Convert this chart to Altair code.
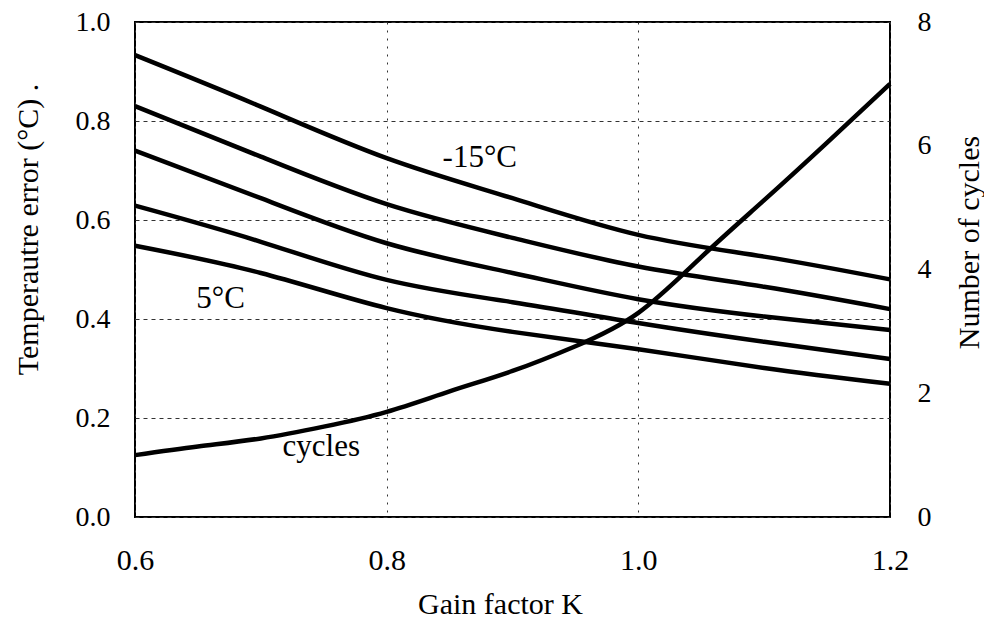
import altair as alt
import pandas as pd

# Gain factor K sample points
K = [0.6, 0.7, 0.8, 0.9, 1.0, 1.1, 1.2]

# Temperature error (°C) for the five ambient temperatures (top = -15°C, bottom = 5°C)
err_m15 = [0.933, 0.829, 0.725, 0.644, 0.570, 0.526, 0.480]
err_b = [0.830, 0.728, 0.632, 0.564, 0.506, 0.465, 0.420]
err_c = [0.740, 0.644, 0.553, 0.493, 0.440, 0.405, 0.378]
err_d = [0.629, 0.556, 0.479, 0.434, 0.392, 0.354, 0.319]
err_p5 = [0.548, 0.493, 0.422, 0.374, 0.339, 0.301, 0.269]
series_names = ["-15°C", "b", "c", "d", "5°C"]
series_values = [err_m15, err_b, err_c, err_d, err_p5]

# Number of cycles
K_cyc = [0.6, 0.65, 0.7, 0.75, 0.8, 0.85, 0.9, 0.95, 1.0, 1.05, 1.1, 1.15, 1.2]
cycles = [1.0, 1.14, 1.27, 1.46, 1.70, 2.03, 2.36, 2.76, 3.30, 4.20, 5.12, 6.05, 7.0]

# In-plot annotations
lab_text = ["-15°C", "5°C", "cycles"]
lab_k = [0.874, 0.668, 0.748]
lab_err = [0.707, 0.422, 0.123]

FONT = "Liberation Serif"
FS = 30
FS_Y = 28

rows = []
for name, vals in zip(series_names, series_values):
    for k, v in zip(K, vals):
        rows.append({"K": k, "err": v, "series": name})
df_temp = pd.DataFrame(rows)
df_cyc = pd.DataFrame({"K": K_cyc, "cycles": cycles})
df_lab = pd.DataFrame({"K": lab_k, "err": lab_err, "label": lab_text})

x_scale = alt.Scale(domain=[0.6, 1.2], nice=False, zero=False)
x_axis = alt.Axis(
    values=[0.6, 0.8, 1.0, 1.2], format=".1f", title="Gain factor K",
    grid=True, gridDash=[2, 6], gridColor="#333", gridWidth=1,
    ticks=False, domain=False, labelFlush=False, labelOverlap=False,
    labelFont=FONT, labelFontSize=FS, labelColor="black",
    labelBaseline="alphabetic", labelPadding=52,
    titleFont=FONT, titleFontSize=FS, titleFontWeight="normal", titleColor="black",
    titleX=365, titleY=96, titleAlign="center", titleBaseline="alphabetic",
)

y_left_axis = alt.Axis(
    values=[0.0, 0.2, 0.4, 0.6, 0.8, 1.0], format=".1f",
    title="Temperautre error (°C)   .",
    grid=True, gridDash=[4, 4], gridColor="#333", gridWidth=1,
    ticks=False, domain=False, labelFlush=False, labelOverlap=False,
    labelFont=FONT, labelFontSize=FS_Y, labelColor="black", labelPadding=25,
    titleFont=FONT, titleFontSize=FS, titleFontWeight="normal", titleColor="black",
    titleAngle=270, titleX=-98, titleY=207, titleAlign="center", titleBaseline="alphabetic",
)

y_right_axis = alt.Axis(
    values=[0, 2, 4, 6, 8], format="d", orient="right",
    title="Number of cycles",
    grid=False, ticks=False, domain=False, labelFlush=False, labelOverlap=False,
    labelFont=FONT, labelFontSize=FS_Y, labelColor="black", labelPadding=27,
    titleFont=FONT, titleFontSize=FS, titleFontWeight="normal", titleColor="black",
    titleAngle=270, titleX=88, titleY=220, titleAlign="center", titleBaseline="alphabetic",
)

temp_lines = alt.Chart(df_temp).mark_line(
    color="black", strokeWidth=4.5, interpolate="natural"
).encode(
    x=alt.X("K:Q", scale=x_scale, axis=x_axis),
    y=alt.Y("err:Q", scale=alt.Scale(domain=[0, 1], nice=False), axis=y_left_axis),
    detail="series:N",
)

labels = alt.Chart(df_lab).mark_text(
    font=FONT, fontSize=31, color="black", align="center", baseline="alphabetic"
).encode(
    x=alt.X("K:Q", scale=x_scale),
    y=alt.Y("err:Q", scale=alt.Scale(domain=[0, 1], nice=False)),
    text="label:N",
)

cyc_line = alt.Chart(df_cyc).mark_line(
    color="black", strokeWidth=4.5, interpolate="natural"
).encode(
    x=alt.X("K:Q", scale=x_scale),
    y=alt.Y("cycles:Q", scale=alt.Scale(domain=[0, 8], nice=False), axis=y_right_axis),
)

chart = alt.layer(
    alt.layer(temp_lines, labels), cyc_line
).resolve_scale(y="independent").properties(
    width=755, height=495,
    autosize=alt.AutoSizeParams(type="none"),
    padding={"left": 127, "top": 14, "right": 94, "bottom": 101},
    background="white",
).configure_view(stroke="black", strokeWidth=2)

chart.save("out.html", embed_options={"renderer": "svg", "actions": False})
